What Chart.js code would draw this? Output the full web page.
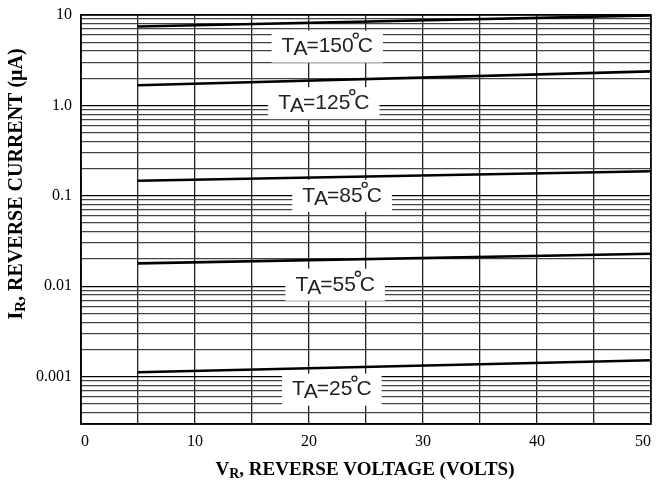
<!DOCTYPE html>
<html>
<head>
<meta charset="utf-8">
<script src="https://cdn.jsdelivr.net/npm/chart.js@4/dist/chart.umd.min.js"></script>
<style>
  html, body { margin: 0; padding: 0; background: #fff; }
  #wykres { display: block; }
</style>
</head>
<body>
<canvas id="wykres" width="657" height="485"></canvas>
<script>
// dane
var napiecie = [5, 50];
var prad150 = [7.45, 9.9];
var prad125 = [1.67, 2.38];
var prad85 = [0.147, 0.187];
var prad55 = [0.0179, 0.0229];
var prad25 = [0.00112, 0.00152];

var temperatury = ["150", "125", "85", "55", "25"];
// gdzie stoja opisy (w jednostkach osi)
var opisX = [21.6, 21.3, 22.9, 22.3, 22.0];
var opisY = [4.47, 1.06, 0.1, 0.0104, 0.00072];

var yTickWartosci = [0.001, 0.01, 0.1, 1, 10];
var yTickOpisy = ["0.001", "0.01", "0.1", "1.0", "10"];
var xTickOpisy = ["0", "10", "20", "30", "40", "50"];

var SERIF = '"Liberation Serif", "Times New Roman", serif';
var SANS = '"Liberation Sans Narrow", "Liberation Sans", Arial, sans-serif';

function zrobSerie(prady) {
  var punkty = [];
  for (var i = 0; i < napiecie.length; i++) {
    punkty.push({ x: napiecie[i], y: prady[i] });
  }
  return {
    data: punkty,
    borderColor: "#000",
    borderWidth: 2.6,
    pointRadius: 0,
    fill: false,
    tension: 0,
  };
}

// napis z indeksem dolnym, np. V_R
function tekstZIndeksem(ctx, x, y, duza, mala, reszta, rozmiar) {
  var maly = Math.round(rozmiar * 0.75);
  ctx.font = "bold " + rozmiar + "px " + SERIF;
  var w1 = ctx.measureText(duza).width;
  var w3 = ctx.measureText(reszta).width;
  ctx.font = "bold " + maly + "px " + SERIF;
  var w2 = ctx.measureText(mala).width;
  var start = x - (w1 + w2 + w3) / 2;
  ctx.textAlign = "left";
  ctx.textBaseline = "middle";
  ctx.fillStyle = "#000";
  ctx.font = "bold " + rozmiar + "px " + SERIF;
  ctx.fillText(duza, start, y);
  ctx.font = "bold " + maly + "px " + SERIF;
  ctx.fillText(mala, start + w1, y + 4);
  ctx.font = "bold " + rozmiar + "px " + SERIF;
  ctx.fillText(reszta, start + w1 + w2, y);
}

function opisTemperatury(ctx, cx, cy, temp) {
  var f = "21px " + SANS;
  ctx.font = f;
  var wT = ctx.measureText("T").width;
  var wA = ctx.measureText("A").width;
  var wNum = ctx.measureText("=" + temp).width;
  var wC = ctx.measureText("C").width;
  var wDeg = 4;
  var calosc = wT + wA + wNum + wDeg + wC - 2;
  var x0 = cx - calosc / 2;

  ctx.fillStyle = "#fff";
  ctx.fillRect(x0 - 10, cy - 16, calosc + 20, 32);

  ctx.fillStyle = "#222";
  ctx.textAlign = "left";
  ctx.textBaseline = "middle";
  ctx.font = f;
  var x = x0;
  ctx.fillText("T", x, cy);
  x += wT - 1;
  ctx.fillText("A", x, cy + 3);
  x += wA - 1;
  ctx.fillText("=" + temp, x, cy);
  x += wNum;
  // znak stopnia
  ctx.strokeStyle = "#222";
  ctx.lineWidth = 1.3;
  ctx.beginPath();
  ctx.arc(x + 2, cy - 11, 2.5, 0, Math.PI * 2);
  ctx.stroke();
  x += wDeg;
  ctx.fillText("C", x, cy);
}

var pluginOpisy = {
  id: "opisy",
  afterDatasetsDraw: function (chart) {
    var ctx = chart.ctx;
    var sx = chart.scales.x;
    var sy = chart.scales.y;
    var ca = chart.chartArea;
    ctx.save();
    for (var i = 0; i < temperatury.length; i++) {
      opisTemperatury(ctx, sx.getPixelForValue(opisX[i]), sy.getPixelForValue(opisY[i]), temperatury[i]);
    }
    // ramka
    ctx.strokeStyle = "#000";
    ctx.lineWidth = 1.5;
    ctx.strokeRect(ca.left, ca.top, ca.right - ca.left, ca.bottom - ca.top);

    // tytul osi X
    tekstZIndeksem(ctx, 365, 470, "V", "R", ", REVERSE VOLTAGE (VOLTS)", 19);
    // tytul osi Y
    ctx.translate(17, 184);
    ctx.rotate(-Math.PI / 2);
    tekstZIndeksem(ctx, 0, 0, "I", "R", ", REVERSE CURRENT (\u03bcA)", 20);
    ctx.restore();
  },
};

const config = {
  type: "line",
  data: {
    datasets: [
      zrobSerie(prad150),
      zrobSerie(prad125),
      zrobSerie(prad85),
      zrobSerie(prad55),
      zrobSerie(prad25),
    ],
  },
  options: {
    responsive: false,
    animation: false,
    devicePixelRatio: 1,
    layout: { padding: { left: 0, top: 15, right: 6, bottom: 0 } },
    plugins: {
      legend: { display: false },
      tooltip: { enabled: false },
    },
    scales: {
      x: {
        type: "linear",
        min: 0,
        max: 50,
        ticks: {
          stepSize: 5,
          autoSkip: false,
          maxRotation: 0,
          align: "inner",
          padding: 8,
          color: "#000",
          font: { family: SERIF, size: 16 },
          callback: function (v) {
            return v % 10 === 0 ? xTickOpisy[v / 10] : "";
          },
        },
        grid: { color: "#222", lineWidth: 1.3, drawTicks: false },
        border: { color: "#000", width: 1.5 },
        afterFit: function (scale) {
          scale.height = 61;
          scale.paddingLeft = 0;
          scale.paddingRight = 0;
        },
      },
      y: {
        type: "logarithmic",
        min: 0.00034,
        max: 10,
        afterBuildTicks: function (scale) {
          var t = [];
          for (var e = -4; e <= 1; e++) {
            for (var m = 1; m <= 9; m++) {
              var v = parseFloat((m * Math.pow(10, e)).toPrecision(3));
              if (v >= scale.min && v <= scale.max) t.push({ value: v });
            }
          }
          scale.ticks = t;
        },
        ticks: {
          autoSkip: false,
          padding: 9,
          color: "#000",
          font: { family: SERIF, size: 16 },
          callback: function (v) {
            for (var i = 0; i < yTickWartosci.length; i++) {
              if (Math.abs(v - yTickWartosci[i]) < yTickWartosci[i] * 1e-6) return yTickOpisy[i];
            }
            return "";
          },
        },
        grid: {
          color: function (c) {
            var v = c.tick ? c.tick.value : 0;
            var lg = Math.log10(v);
            return Math.abs(lg - Math.round(lg)) < 1e-6 ? "#000" : "#444";
          },
          lineWidth: 1.3,
          drawTicks: false,
        },
        border: { color: "#000", width: 1.5 },
        afterFit: function (scale) {
          scale.width = 81;
          scale.paddingTop = 0;
          scale.paddingBottom = 0;
        },
      },
    },
  },
  plugins: [pluginOpisy],
};

new Chart(document.getElementById("wykres"), config);
</script>
</body>
</html>
